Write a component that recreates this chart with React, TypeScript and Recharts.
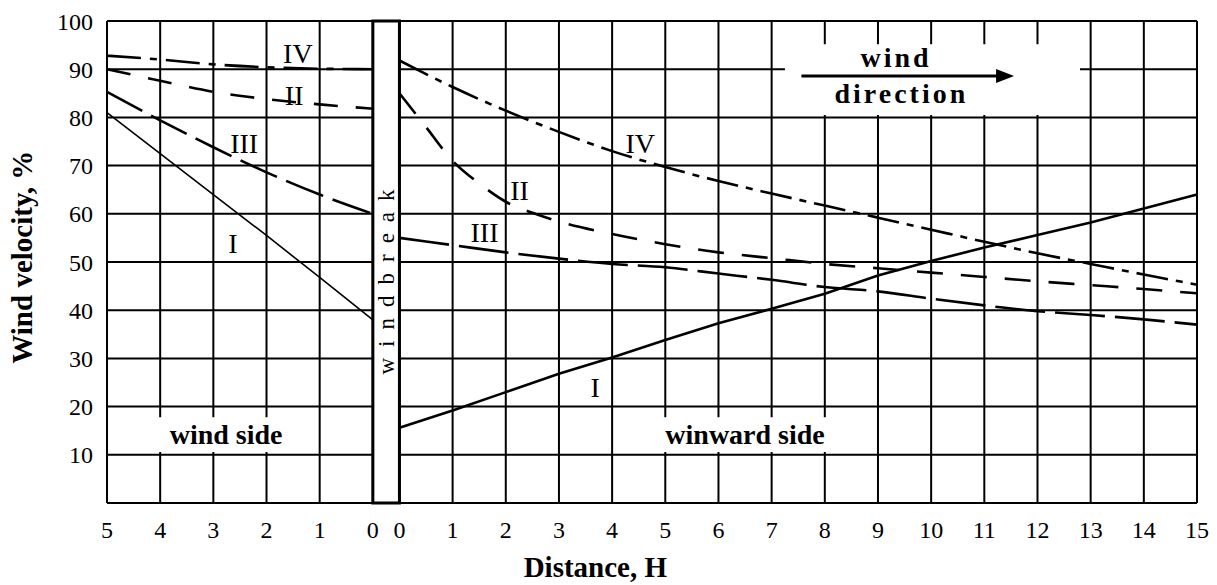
import React from "react";
import {
  LineChart,
  Line,
  XAxis,
  YAxis,
  CartesianGrid,
  ReferenceArea,
  ReferenceDot,
  ReferenceLine,
  Label,
} from "recharts";

const SERIF = '"Liberation Serif", "Times New Roman", serif';

// width of the windbreak strip, in units of H
const WB = 0.5;

// wind side (distance counted leftwards from the windbreak)
const LEFT_DIST = [5, 4, 3, 2, 1, 0];
const LEFT_I = [81, 72.5, 64, 55.5, 46.8, 38];
const LEFT_II = [90, 87.6, 85.3, 83.8, 82.7, 81.8];
const LEFT_III = [85.3, 79.4, 73.8, 68.6, 64, 60];
const LEFT_IV = [92.8, 92, 91, 90.4, 90.1, 90];

// winward side
const RIGHT_DIST = [0, 1, 2, 3, 4, 5, 6, 7, 8, 9, 10, 11, 12, 13, 14, 15];
const RIGHT_I = [15.6, 19.2, 23, 26.8, 30.2, 33.8, 37.3, 40.3, 43.4, 47.2, 50.2, 53, 55.6, 58.2, 61.1, 64];
const RIGHT_III = [55, 53.5, 52, 50.7, 49.6, 48.9, 47.6, 46.3, 44.8, 43.9, 42.4, 41, 39.8, 39, 38.1, 37];
const RIGHT_IV = [91.8, 86.3, 81.4, 77, 73, 69.7, 66.8, 64.2, 61.7, 59.2, 56.7, 54.2, 51.8, 49.6, 47.4, 45.3];
const RIGHT_II_DIST = [0, 0.5, 1, 1.5, 2, 2.5, 3, 4, 5, 6, 7, 8, 9, 10, 11, 12, 13, 14, 15];
const RIGHT_II = [85, 78, 71, 66.3, 62.5, 60.2, 58.4, 55.8, 53.7, 52, 50.8, 49.6, 48.7, 47.8, 46.9, 46, 45.2, 44.4, 43.5];

const Y_TICKS = [10, 20, 30, 40, 50, 60, 70, 80, 90, 100];
const X_TICKS = [
  ...LEFT_DIST.map((d) => -d),
  ...RIGHT_DIST.map((d) => d + WB),
];

const toLeft = (vals: number[]) => LEFT_DIST.map((d, i) => ({ x: -d, v: vals[i] }));
const toRight = (dist: number[], vals: number[]) => dist.map((d, i) => ({ x: d + WB, v: vals[i] }));

const fmtX = (v: number) => (v <= 0 ? String(Math.abs(v)) : String(Math.round((v - WB) * 10) / 10));

// curve labels, positioned in chart coordinates
const NUMERALS = [
  { text: "IV", x: -1.41, y: 93.4 },
  { text: "II", x: -1.48, y: 84.6 },
  { text: "III", x: -2.42, y: 74.7 },
  { text: "I", x: -2.63, y: 53.9 },
  { text: "IV", x: 5.03, y: 74.7 },
  { text: "II", x: 2.76, y: 64.9 },
  { text: "III", x: 2.1, y: 56.2 },
  { text: "I", x: 4.18, y: 24.1 },
];

const noteStyle = { fontFamily: SERIF, fontSize: 28, fontWeight: "bold", fill: "#000" };

const Arrowhead = (props: any) => {
  const { cx, cy } = props;
  return <path d={`M${cx} ${cy} L${cx - 18} ${cy - 7} L${cx - 18} ${cy + 7} Z`} fill="#000" />;
};

const windbreakLabel = ({ viewBox }: any) => {
  const cx = viewBox.x + viewBox.width / 2;
  const cy = viewBox.y + viewBox.height * 0.53;
  return (
    <text
      x={cx}
      y={cy}
      transform={`rotate(-90 ${cx} ${cy})`}
      textAnchor="middle"
      dominantBaseline="central"
      fontFamily={SERIF}
      fontSize={23}
      letterSpacing={11}
      fill="#000"
    >
      windbreak
    </text>
  );
};

const yTitle = ({ viewBox }: any) => {
  const cx = viewBox.x + 22;
  const cy = viewBox.y + viewBox.height * 0.49;
  return (
    <text
      x={cx}
      y={cy}
      transform={`rotate(-90 ${cx} ${cy})`}
      textAnchor="middle"
      dominantBaseline="central"
      fontFamily={SERIF}
      fontSize={29}
      fontWeight="bold"
      fill="#000"
    >
      Wind velocity, %
    </text>
  );
};

const xTitle = ({ viewBox }: any) => (
  <text
    x={viewBox.x + viewBox.width * 0.448}
    y={viewBox.y + 74}
    textAnchor="middle"
    fontFamily={SERIF}
    fontSize={29}
    fontWeight="bold"
    fill="#000"
  >
    Distance, H
  </text>
);

export default function App() {
  return (
    <div style={{ position: "absolute", left: 0, top: 0, width: 1217, height: 585, background: "#fff" }}>
      <LineChart width={1217} height={585} margin={{ top: 21, right: 20, bottom: 0, left: 0 }}>
        <CartesianGrid stroke="#000" strokeWidth={2} strokeOpacity={1} />
        <XAxis
          type="number"
          dataKey="x"
          domain={[-5, 15.5]}
          ticks={X_TICKS}
          interval={0}
          tickFormatter={fmtX}
          height={82}
          tickSize={0}
          tickMargin={18}
          axisLine={{ stroke: "#000", strokeWidth: 2 }}
          tick={{ fill: "#000", fontSize: 24, fontFamily: SERIF }}
        >
          <Label content={xTitle} />
        </XAxis>
        <YAxis
          type="number"
          domain={[0, 100]}
          ticks={Y_TICKS}
          interval={0}
          width={107}
          tickSize={0}
          tickMargin={14}
          axisLine={{ stroke: "#000", strokeWidth: 2 }}
          tick={{ fill: "#000", fontSize: 24, fontFamily: SERIF }}
        >
          <Label content={yTitle} />
        </YAxis>

        <ReferenceArea
          x1={0}
          x2={WB}
          y1={0}
          y2={100}
          fill="#fff"
          fillOpacity={1}
          stroke="#000"
          strokeWidth={3}
          label={windbreakLabel}
        />
        <ReferenceArea
          x1={-4.16}
          x2={-1.36}
          y1={10.6}
          y2={17.8}
          fill="#fff"
          fillOpacity={1}
          stroke="none"
          label={{ value: "wind side", position: "center", ...noteStyle }}
        />
        <ReferenceArea
          x1={5.4}
          x2={8.6}
          y1={10.6}
          y2={17.8}
          fill="#fff"
          fillOpacity={1}
          stroke="none"
          label={{ value: "winward side", position: "center", ...noteStyle }}
        />
        <ReferenceArea x1={7.75} x2={13.3} y1={80.5} y2={95.2} fill="#fff" fillOpacity={1} stroke="none" />
        <ReferenceDot
          x={9.84}
          y={92.5}
          r={0}
          fill="none"
          stroke="none"
          label={{ value: "wind", position: "center", letterSpacing: 3, ...noteStyle }}
        />
        <ReferenceDot
          x={9.94}
          y={85.1}
          r={0}
          fill="none"
          stroke="none"
          label={{ value: "direction", position: "center", letterSpacing: 3, ...noteStyle }}
        />
        <ReferenceLine
          segment={[
            { x: 8.06, y: 88.6 },
            { x: 11.8, y: 88.6 },
          ]}
          stroke="#000"
          strokeWidth={3}
        />
        <ReferenceDot x={12.06} y={88.6} r={1} shape={Arrowhead} />

        <Line data={toLeft(LEFT_I)} dataKey="v" type="linear" stroke="#000" strokeWidth={1.6} dot={false} activeDot={false} isAnimationActive={false} />
        <Line data={toLeft(LEFT_II)} dataKey="v" type="monotone" stroke="#000" strokeWidth={2.6} strokeDasharray="24 18" dot={false} activeDot={false} isAnimationActive={false} />
        <Line data={toLeft(LEFT_III)} dataKey="v" type="monotone" stroke="#000" strokeWidth={2.6} strokeDasharray="40 10" dot={false} activeDot={false} isAnimationActive={false} />
        <Line data={toLeft(LEFT_IV)} dataKey="v" type="monotone" stroke="#000" strokeWidth={2.6} strokeDasharray="34 9 7 9" dot={false} activeDot={false} isAnimationActive={false} />

        <Line data={toRight(RIGHT_DIST, RIGHT_I)} dataKey="v" type="linear" stroke="#000" strokeWidth={2.6} dot={false} activeDot={false} isAnimationActive={false} />
        <Line data={toRight(RIGHT_II_DIST, RIGHT_II)} dataKey="v" type="monotone" stroke="#000" strokeWidth={2.6} strokeDasharray="26 18" dot={false} activeDot={false} isAnimationActive={false} />
        <Line data={toRight(RIGHT_DIST, RIGHT_III)} dataKey="v" type="monotone" stroke="#000" strokeWidth={2.6} strokeDasharray="50 10" dot={false} activeDot={false} isAnimationActive={false} />
        <Line data={toRight(RIGHT_DIST, RIGHT_IV)} dataKey="v" type="monotone" stroke="#000" strokeWidth={2.6} strokeDasharray="32 8 7 8" dot={false} activeDot={false} isAnimationActive={false} />

        {NUMERALS.map((n, i) => (
          <ReferenceDot
            key={i}
            x={n.x}
            y={n.y}
            r={0}
            fill="none"
            stroke="none"
            label={{ value: n.text, position: "center", fontFamily: SERIF, fontSize: 28, fill: "#000" }}
          />
        ))}
      </LineChart>
    </div>
  );
}
